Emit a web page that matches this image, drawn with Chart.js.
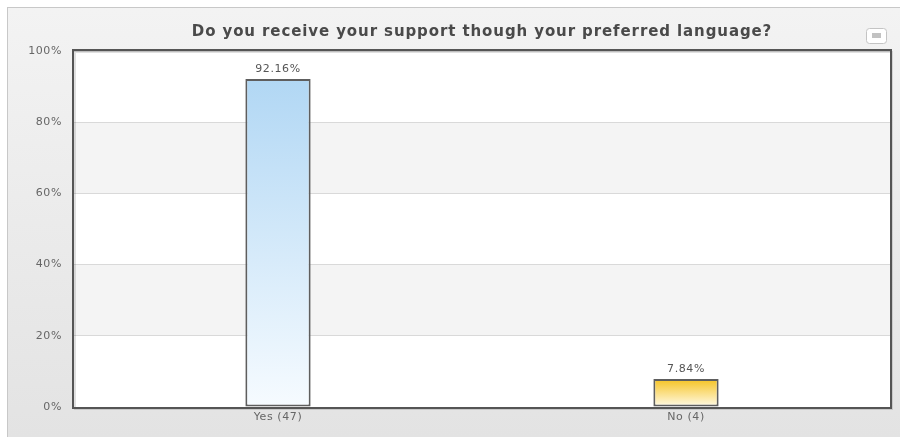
<!DOCTYPE html>
<html>
<head>
<meta charset="utf-8">
<script src="https://cdn.jsdelivr.net/npm/chart.js@4/dist/chart.umd.min.js"></script>
<style>
    html, body { margin: 0; padding: 0; background: #fff; overflow: hidden; }
    #panel {
        position: absolute; left: 7px; top: 7px; width: 892px; height: 429px;
        border-left: 1px solid #c8c8c8; border-top: 1px solid #c8c8c8;
        background: linear-gradient(#f3f3f3, #e3e3e3);
    }
    #panel canvas { display: block; }
</style>
</head>
<body>
<div id="panel"><canvas id="langChart" width="892" height="429"></canvas></div>
<script>
// Chart data
const categories = ["Yes (47)", "No (4)"];
const percentages = [92.16, 7.84];
const tickValues = [0, 20, 40, 60, 80, 100];
const chartTitle = "Do you receive your support though your preferred language?";

// Gradient stops per bar (top -> bottom)
const barGradients = [
    ["#b1d7f4", "#f6fbff"],
    ["#f6c322", "#fffbea"],
];

const fontFamily = "'DejaVu Sans', Verdana, sans-serif";

const makeGradient = (ctx) => {
    const chart = ctx.chart;
    const area = chart.chartArea;
    if (!area) return barGradients[ctx.dataIndex % 2][0];
    const y = chart.scales.y;
    const top = y.getPixelForValue(percentages[ctx.dataIndex]);
    const bottom = y.getPixelForValue(0);
    const stops = barGradients[ctx.dataIndex % 2];
    const g = chart.ctx.createLinearGradient(0, top, 0, bottom);
    g.addColorStop(0, stops[0]);
    g.addColorStop(1, stops[1]);
    return g;
};

/**
 * Plot background: white with alternating grey bands
 */
const bandsPlugin = {
    id: "bands",
    beforeInit(chart) {
        // Verdana-like wide text
        chart.ctx.letterSpacing = "0.6px";
    },
    beforeDraw(chart) {
        const { ctx, chartArea: a, scales } = chart;
        ctx.letterSpacing = "0.6px";
        ctx.save();
        ctx.fillStyle = "#ffffff";
        ctx.fillRect(a.left, a.top, a.right - a.left, a.bottom - a.top);
        ctx.fillStyle = "#f4f4f4";
        [[20, 40], [60, 80]].forEach(([lo, hi]) => {
            const y1 = scales.y.getPixelForValue(hi);
            const y2 = scales.y.getPixelForValue(lo);
            ctx.fillRect(a.left, y1, a.right - a.left, y2 - y1);
        });
        ctx.restore();
    },
};

/**
 * Frame, value labels, title and menu button
 */
const decorPlugin = {
    id: "decor",
    afterDatasetsDraw(chart) {
        const { ctx, chartArea: a } = chart;
        ctx.save();
        // shadow
        ctx.strokeStyle = "rgba(0,0,0,0.12)";
        ctx.lineWidth = 2;
        ctx.strokeRect(a.left + 1, a.top + 1, a.right - a.left + 1, a.bottom - a.top + 1);
        // frame
        ctx.strokeStyle = "#555";
        ctx.lineWidth = 2;
        ctx.strokeRect(a.left - 1, a.top - 1, a.right - a.left + 2, a.bottom - a.top + 2);

        // value labels
        ctx.fillStyle = "#555";
        ctx.font = "11px " + fontFamily;
        ctx.letterSpacing = "0.6px";
        ctx.textAlign = "center";
        ctx.textBaseline = "bottom";
        chart.getDatasetMeta(0).data.forEach((bar, i) => {
            ctx.fillText(percentages[i].toFixed(2) + "%", bar.x, bar.y - 4);
        });

        // title
        ctx.fillStyle = "#4a4a4a";
        ctx.font = "bold 15px " + fontFamily;
        ctx.letterSpacing = "0.9px";
        ctx.textBaseline = "middle";
        ctx.fillText(chartTitle, (a.left + a.right) / 2, 24);

        // menu button
        const bx = 858, by = 20, bw = 20, bh = 15;
        ctx.beginPath();
        ctx.roundRect(bx + 0.5, by + 0.5, bw, bh, 3);
        ctx.fillStyle = "#ffffff";
        ctx.fill();
        ctx.strokeStyle = "#c4c4c4";
        ctx.lineWidth = 1;
        ctx.stroke();
        ctx.fillStyle = "#c2c2c2";
        ctx.fillRect(bx + 6, by + 5, 9, 5);
        ctx.restore();
    },
};

new Chart(document.getElementById("langChart"), {
    type: "bar",
    data: {
        labels: categories,
        datasets: [
            {
                data: percentages,
                backgroundColor: makeGradient,
                borderColor: "#5e5e5e",
                borderWidth: 2,
                borderSkipped: false,
                barPercentage: 1,
                categoryPercentage: 0.16,
            },
        ],
    },
    options: {
        responsive: false,
        animation: false,
        layout: { padding: { top: 43, right: 10, left: 0, bottom: 0 } },
        plugins: {
            legend: { display: false },
            title: { display: false },
            tooltip: { enabled: false },
        },
        scales: {
            x: {
                grid: { display: false, drawTicks: false },
                border: { display: false },
                ticks: { color: "#666", font: { family: fontFamily, size: 11 }, padding: 4 },
                afterFit: (scale) => { scale.height = 30; },
            },
            y: {
                min: 0,
                max: 100,
                afterBuildTicks: (scale) => {
                    scale.ticks = tickValues.map((v) => ({ value: v }));
                },
                grid: { color: "#d9d9d9", drawTicks: false },
                border: { display: false },
                ticks: {
                    color: "#666",
                    font: { family: fontFamily, size: 11 },
                    padding: 12,
                    callback: (v) => v + "%",
                },
                afterFit: (scale) => { scale.width = 66; },
            },
        },
    },
    plugins: [bandsPlugin, decorPlugin],
});
</script>
</body>
</html>
